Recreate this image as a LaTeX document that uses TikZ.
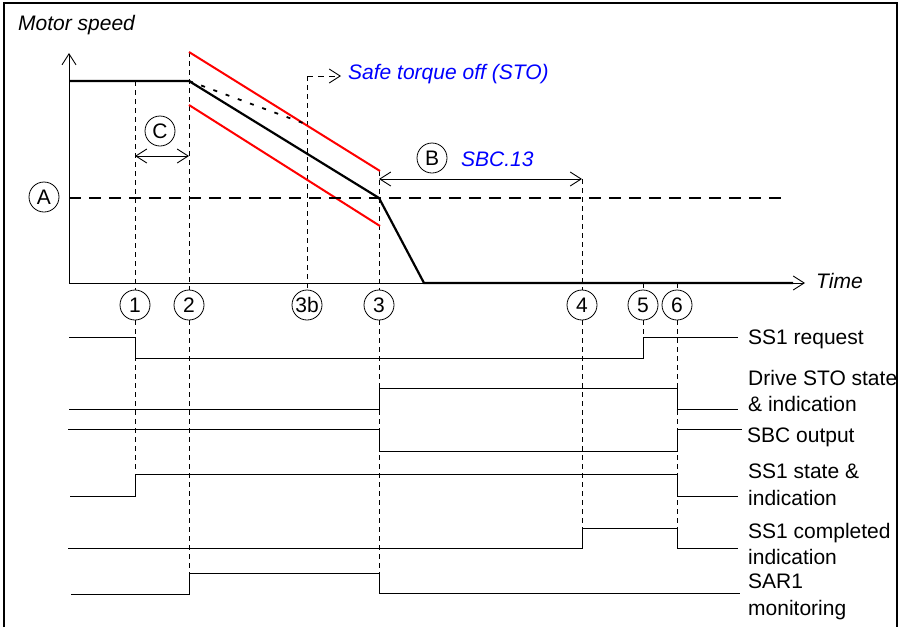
\documentclass[tikz,border=0pt]{standalone}
\usepackage{fontspec}
\setmainfont{Liberation Sans}
\usetikzlibrary{arrows.meta,calc,positioning}

\begin{document}
\begin{tikzpicture}[x=1pt,y=-1pt,
  font=\fontsize{21}{26.5}\selectfont,
  evt/.style={circle,draw,line width=0.8,minimum size=30,inner sep=0},
  guide/.style={line width=0.9,dash pattern=on 5 off 4},
  sig/.style={line width=1},
  barb/.style={line width=0.9,-{Straight Barb[length=11,width=14]}},
  lbl/.style={anchor=west,inner sep=0,align=left},
  blu/.style={anchor=west,inner sep=0,blue,font=\fontsize{21}{26.5}\selectfont\itshape}]
\useasboundingbox (0,0) rectangle (902,627);
\pgfmathsetmacro\tA{135}  % 1
\pgfmathsetmacro\tB{189}  % 2
\pgfmathsetmacro\tS{307}  % 3b
\pgfmathsetmacro\tC{379}  % 3
\pgfmathsetmacro\tD{582}  % 4
\pgfmathsetmacro\tE{643}  % 5
\pgfmathsetmacro\tF{677}  % 6
\pgfmathsetmacro\yE{305}

% frame
\draw [line width=1.3] (4,627) -- (4,3) -- (897,3) -- (897,627);

% axes
\draw [barb] (69,283) -- (69,53);
\draw [barb] (69,283) -- (805,283);
\node [lbl,font=\fontsize{21}{26.5}\selectfont\itshape] (mspeed) at (18,25) {Motor speed};
\node [lbl,font=\fontsize{21}{26.5}\selectfont\itshape] (time) at (816,281) {Time};

% event markers
\node [evt] (e1) at (\tA,\yE) {1};
\node [evt] (e2) at (\tB,\yE) {2};
\node [evt] (e3b) at (\tS,\yE) {3b};
\node [evt] (e3) at (\tC,\yE) {3};
\node [evt] (e4) at (\tD,\yE) {4};
\node [evt] (e5) at (\tE,\yE) {5};
\node [evt] (e6) at (\tF,\yE) {6};

\draw [guide] (\tA,81) -- (e1.north);  \draw [guide] (e1.south) -- (\tA,473);
\draw [guide] (\tB,52) -- (e2.north);  \draw [guide] (e2.south) -- (\tB,573);
\draw [guide] (\tS,76) -- (e3b.north);
\draw [guide] (\tC,171) -- (e3.north); \draw [guide] (e3.south) -- (\tC,593);
\draw [guide] (\tD,179) -- (e4.north); \draw [guide] (e4.south) -- (\tD,548);
\draw [guide] (\tE,283) -- (e5.north); \draw [guide] (e5.south) -- (\tE,337);
\draw [guide] (\tF,283) -- (e6.north); \draw [guide] (e6.south) -- (\tF,548);

% speed limits and ramp
\draw [red,line width=2] (\tB,52) -- (380,171);
\draw [red,line width=2] (\tB,105) -- (380,226);
\draw [line width=1.8,dash pattern=on 4 off 9] (\tB,81) -- (303,123);
\draw [line width=2.2] (69,81) -- (\tB,81) -- (\tC,198) -- (424,283) -- (793,283);

% level A
\node [evt] (lvA) at (44,197) {A};
\draw [line width=2.5,dash pattern=on 12 off 8] (69,198) -- (787,198);

% C and B spans
\node [evt] (spC) at (160,131) {C};
\coordinate (c0) at (\tA,156);
\coordinate (c1) at (\tB,156);
\draw [barb,{Straight Barb[length=11,width=14]}-{Straight Barb[length=11,width=14]}] (c0) -- (c1);
\node [evt] (spB) at (432,158) {B};
\node [blu] (sbc) at (461,159) {SBC.13};
\coordinate (b0) at (\tC,179);
\coordinate (b1) at (\tD,179);
\draw [barb,{Straight Barb[length=11,width=14]}-{Straight Barb[length=11,width=14]}] (b0) -- (b1);

% STO pointer
\coordinate (s0) at (\tS,76);
\node [blu] (sto) at (348,74) {Safe torque off (STO)};
\draw [barb,dash pattern=on 6 off 5] (s0) -- (341,76);

% signals
\draw [sig] (69,337) -| (\tA,358) -| (\tE,337) -- (738,337);
\draw [sig] (69,409) -| (\tC,388) -| (\tF,409) -- (738,409);
\draw [sig] (68,429) -| (\tC,451) -| (\tF,429) -- (742,429);
\draw [sig] (70,496) -| (\tA,474) -| (\tF,496) -- (738,496);
\draw [sig] (68,548) -| (\tD,528) -| (\tF,548) -- (738,548);
\draw [sig] (71,594) -| (\tB,573) -| (\tC,593) -- (740,593);

\node [lbl] (req) at (748,339) {SS1 request};
\node [lbl] (sto st) at (748,391) {Drive STO state\\\& indication};
\node [lbl] (sbco) at (747,437) {SBC output};
\node [lbl] (ssst) at (748,485) {SS1 state \&\\indication};
\node [lbl] (ssdone) at (748,544) {SS1 completed\\indication};
\node [lbl] (sar) at (748,597) {SAR1\\monitoring};

\end{tikzpicture}
\end{document}
